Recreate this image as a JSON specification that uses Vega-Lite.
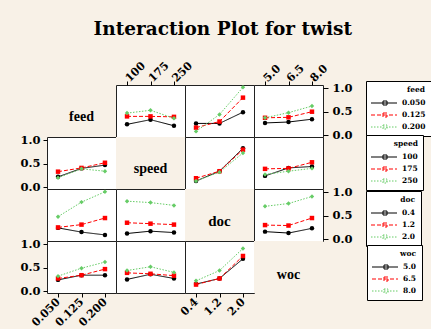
{
"$schema": "https://vega.github.io/schema/vega-lite/v6.json",
"background": "#f8f1e7",
"padding": {"left": 19, "top": 19, "right": 0, "bottom": 0},
"title": {"text": "Interaction Plot for twist", "font": "DejaVu Serif", "fontSize": 18.5, "fontWeight": "bold", "color": "#000", "anchor": "middle", "dx": -3, "offset": 21},
"datasets": {"d": [
{"r":"feed","c":"speed","t":"0.050","x":"100","y":0.23},{"r":"feed","c":"speed","t":"0.050","x":"175","y":0.33},{"r":"feed","c":"speed","t":"0.050","x":"250","y":0.20},
{"r":"feed","c":"speed","t":"0.125","x":"100","y":0.40},{"r":"feed","c":"speed","t":"0.125","x":"175","y":0.40},{"r":"feed","c":"speed","t":"0.125","x":"250","y":0.39},
{"r":"feed","c":"speed","t":"0.200","x":"100","y":0.47},{"r":"feed","c":"speed","t":"0.200","x":"175","y":0.53},{"r":"feed","c":"speed","t":"0.200","x":"250","y":0.36},
{"r":"feed","c":"doc","t":"0.050","x":"0.4","y":0.25},{"r":"feed","c":"doc","t":"0.050","x":"1.2","y":0.25},{"r":"feed","c":"doc","t":"0.050","x":"2.0","y":0.49},
{"r":"feed","c":"doc","t":"0.125","x":"0.4","y":0.16},{"r":"feed","c":"doc","t":"0.125","x":"1.2","y":0.29},{"r":"feed","c":"doc","t":"0.125","x":"2.0","y":0.80},
{"r":"feed","c":"doc","t":"0.200","x":"0.4","y":0.08},{"r":"feed","c":"doc","t":"0.200","x":"1.2","y":0.44},{"r":"feed","c":"doc","t":"0.200","x":"2.0","y":1.02},
{"r":"feed","c":"woc","t":"0.050","x":"5.0","y":0.26},{"r":"feed","c":"woc","t":"0.050","x":"6.5","y":0.28},{"r":"feed","c":"woc","t":"0.050","x":"8.0","y":0.34},
{"r":"feed","c":"woc","t":"0.125","x":"5.0","y":0.37},{"r":"feed","c":"woc","t":"0.125","x":"6.5","y":0.38},{"r":"feed","c":"woc","t":"0.125","x":"8.0","y":0.50},
{"r":"feed","c":"woc","t":"0.200","x":"5.0","y":0.37},{"r":"feed","c":"woc","t":"0.200","x":"6.5","y":0.48},{"r":"feed","c":"woc","t":"0.200","x":"8.0","y":0.62},
{"r":"speed","c":"feed","t":"100","x":"0.050","y":0.22},{"r":"speed","c":"feed","t":"100","x":"0.125","y":0.40},{"r":"speed","c":"feed","t":"100","x":"0.200","y":0.47},
{"r":"speed","c":"feed","t":"175","x":"0.050","y":0.33},{"r":"speed","c":"feed","t":"175","x":"0.125","y":0.41},{"r":"speed","c":"feed","t":"175","x":"0.200","y":0.52},
{"r":"speed","c":"feed","t":"250","x":"0.050","y":0.20},{"r":"speed","c":"feed","t":"250","x":"0.125","y":0.39},{"r":"speed","c":"feed","t":"250","x":"0.200","y":0.34},
{"r":"speed","c":"doc","t":"100","x":"0.4","y":0.13},{"r":"speed","c":"doc","t":"100","x":"1.2","y":0.34},{"r":"speed","c":"doc","t":"100","x":"2.0","y":0.83},
{"r":"speed","c":"doc","t":"175","x":"0.4","y":0.19},{"r":"speed","c":"doc","t":"175","x":"1.2","y":0.34},{"r":"speed","c":"doc","t":"175","x":"2.0","y":0.80},
{"r":"speed","c":"doc","t":"250","x":"0.4","y":0.13},{"r":"speed","c":"doc","t":"250","x":"1.2","y":0.32},{"r":"speed","c":"doc","t":"250","x":"2.0","y":0.73},
{"r":"speed","c":"woc","t":"100","x":"5.0","y":0.24},{"r":"speed","c":"woc","t":"100","x":"6.5","y":0.41},{"r":"speed","c":"woc","t":"100","x":"8.0","y":0.44},
{"r":"speed","c":"woc","t":"175","x":"5.0","y":0.39},{"r":"speed","c":"woc","t":"175","x":"6.5","y":0.40},{"r":"speed","c":"woc","t":"175","x":"8.0","y":0.53},
{"r":"speed","c":"woc","t":"250","x":"5.0","y":0.27},{"r":"speed","c":"woc","t":"250","x":"6.5","y":0.34},{"r":"speed","c":"woc","t":"250","x":"8.0","y":0.40},
{"r":"doc","c":"feed","t":"0.4","x":"0.050","y":0.24},{"r":"doc","c":"feed","t":"0.4","x":"0.125","y":0.15},{"r":"doc","c":"feed","t":"0.4","x":"0.200","y":0.09},
{"r":"doc","c":"feed","t":"1.2","x":"0.050","y":0.25},{"r":"doc","c":"feed","t":"1.2","x":"0.125","y":0.31},{"r":"doc","c":"feed","t":"1.2","x":"0.200","y":0.45},
{"r":"doc","c":"feed","t":"2.0","x":"0.050","y":0.48},{"r":"doc","c":"feed","t":"2.0","x":"0.125","y":0.79},{"r":"doc","c":"feed","t":"2.0","x":"0.200","y":1.01},
{"r":"doc","c":"speed","t":"0.4","x":"100","y":0.12},{"r":"doc","c":"speed","t":"0.4","x":"175","y":0.17},{"r":"doc","c":"speed","t":"0.4","x":"250","y":0.14},
{"r":"doc","c":"speed","t":"1.2","x":"100","y":0.35},{"r":"doc","c":"speed","t":"1.2","x":"175","y":0.33},{"r":"doc","c":"speed","t":"1.2","x":"250","y":0.31},
{"r":"doc","c":"speed","t":"2.0","x":"100","y":0.81},{"r":"doc","c":"speed","t":"2.0","x":"175","y":0.78},{"r":"doc","c":"speed","t":"2.0","x":"250","y":0.72},
{"r":"doc","c":"woc","t":"0.4","x":"5.0","y":0.16},{"r":"doc","c":"woc","t":"0.4","x":"6.5","y":0.13},{"r":"doc","c":"woc","t":"0.4","x":"8.0","y":0.23},
{"r":"doc","c":"woc","t":"1.2","x":"5.0","y":0.30},{"r":"doc","c":"woc","t":"1.2","x":"6.5","y":0.29},{"r":"doc","c":"woc","t":"1.2","x":"8.0","y":0.45},
{"r":"doc","c":"woc","t":"2.0","x":"5.0","y":0.70},{"r":"doc","c":"woc","t":"2.0","x":"6.5","y":0.76},{"r":"doc","c":"woc","t":"2.0","x":"8.0","y":0.91},
{"r":"woc","c":"feed","t":"5.0","x":"0.050","y":0.24},{"r":"woc","c":"feed","t":"5.0","x":"0.125","y":0.34},{"r":"woc","c":"feed","t":"5.0","x":"0.200","y":0.34},
{"r":"woc","c":"feed","t":"6.5","x":"0.050","y":0.27},{"r":"woc","c":"feed","t":"6.5","x":"0.125","y":0.34},{"r":"woc","c":"feed","t":"6.5","x":"0.200","y":0.47},
{"r":"woc","c":"feed","t":"8.0","x":"0.050","y":0.32},{"r":"woc","c":"feed","t":"8.0","x":"0.125","y":0.49},{"r":"woc","c":"feed","t":"8.0","x":"0.200","y":0.62},
{"r":"woc","c":"speed","t":"5.0","x":"100","y":0.25},{"r":"woc","c":"speed","t":"5.0","x":"175","y":0.36},{"r":"woc","c":"speed","t":"5.0","x":"250","y":0.27},
{"r":"woc","c":"speed","t":"6.5","x":"100","y":0.39},{"r":"woc","c":"speed","t":"6.5","x":"175","y":0.37},{"r":"woc","c":"speed","t":"6.5","x":"250","y":0.33},
{"r":"woc","c":"speed","t":"8.0","x":"100","y":0.44},{"r":"woc","c":"speed","t":"8.0","x":"175","y":0.52},{"r":"woc","c":"speed","t":"8.0","x":"250","y":0.40},
{"r":"woc","c":"doc","t":"5.0","x":"0.4","y":0.15},{"r":"woc","c":"doc","t":"5.0","x":"1.2","y":0.27},{"r":"woc","c":"doc","t":"5.0","x":"2.0","y":0.69},
{"r":"woc","c":"doc","t":"6.5","x":"0.4","y":0.14},{"r":"woc","c":"doc","t":"6.5","x":"1.2","y":0.27},{"r":"woc","c":"doc","t":"6.5","x":"2.0","y":0.75},
{"r":"woc","c":"doc","t":"8.0","x":"0.4","y":0.22},{"r":"woc","c":"doc","t":"8.0","x":"1.2","y":0.44},{"r":"woc","c":"doc","t":"8.0","x":"2.0","y":0.91}
]},
"columns": 4,
"spacing": 0,
"bounds": "flush",
"resolve": {"scale": {"x": "independent", "y": "independent", "color": "independent", "fill": "independent", "strokeDash": "independent", "shape": "independent"}, "legend": {"color": "independent", "fill": "independent", "strokeDash": "independent", "shape": "independent"}},
"concat": [
{"width": 69, "height": 52, "view": {"fill": "#f8f1e7"}, "data": {"values": [{"label": "feed"}]}, "mark": {"type": "text", "font": "Liberation Serif", "fontSize": 14, "fontWeight": "bold", "dy": 6, "color": "#000"}, "encoding": {"text": {"field": "label"}}},
{"width": 69, "height": 52, "data": {"name": "d"}, "transform": [{"filter": "datum.r=='feed' && datum.c=='speed'"}],
 "encoding": {"x": {"field": "x", "type": "ordinal", "scale": {"type": "point", "padding": 0.47, "domain": ["100","175","250"]}, "axis": {"orient": "top", "title": null, "labelAngle": -45, "labelAlign": "left", "labelBaseline": "middle", "tickSize": 4, "labelPadding": 1, "labelFontSize": 11}},
  "y": {"field": "y", "type": "quantitative", "scale": {"domain": [-0.04, 1.07], "nice": false, "zero": false}, "axis": null}},
 "layer": [{"mark": {"type": "line", "strokeWidth": 1}, "encoding": {"color": {"field": "t", "type": "nominal", "scale": {"domain": ["0.050","0.125","0.200"], "range": ["#000000","#ff0000","#66cc66"]}, "legend": null}, "strokeDash": {"field": "t", "type": "nominal", "scale": {"domain": ["0.050","0.125","0.200"], "range": [[1,0],[4,2],[1.5,1.5]]}, "legend": null}}},
  {"mark": {"type": "point", "filled": true, "opacity": 1, "size": 20, "strokeWidth": 0}, "encoding": {"fill": {"field": "t", "type": "nominal", "scale": {"domain": ["0.125","0.050","0.200"], "range": ["#ff0000","#000000","#66cc66"]}, "legend": null}, "shape": {"field": "t", "type": "nominal", "scale": {"domain": ["0.200","0.125","0.050"], "range": ["diamond","square","circle"]}, "legend": null}}}]},
{"width": 69, "height": 52, "data": {"name": "d"}, "transform": [{"filter": "datum.r=='feed' && datum.c=='doc'"}],
 "encoding": {"x": {"field": "x", "type": "ordinal", "scale": {"type": "point", "padding": 0.47, "domain": ["0.4","1.2","2.0"]}, "axis": null},
  "y": {"field": "y", "type": "quantitative", "scale": {"domain": [-0.04, 1.07], "nice": false, "zero": false}, "axis": null}},
 "layer": [{"mark": {"type": "line", "strokeWidth": 1}, "encoding": {"color": {"field": "t", "type": "nominal", "scale": {"domain": ["0.050","0.125","0.200"], "range": ["#000000","#ff0000","#66cc66"]}, "legend": null}, "strokeDash": {"field": "t", "type": "nominal", "scale": {"domain": ["0.050","0.125","0.200"], "range": [[1,0],[4,2],[1.5,1.5]]}, "legend": null}}},
  {"mark": {"type": "point", "filled": true, "opacity": 1, "size": 20, "strokeWidth": 0}, "encoding": {"fill": {"field": "t", "type": "nominal", "scale": {"domain": ["0.125","0.050","0.200"], "range": ["#ff0000","#000000","#66cc66"]}, "legend": null}, "shape": {"field": "t", "type": "nominal", "scale": {"domain": ["0.200","0.125","0.050"], "range": ["diamond","square","circle"]}, "legend": null}}}]},
{"width": 69, "height": 52, "data": {"name": "d"}, "transform": [{"filter": "datum.r=='feed' && datum.c=='woc'"}],
 "encoding": {"x": {"field": "x", "type": "ordinal", "scale": {"type": "point", "padding": 0.47, "domain": ["5.0","6.5","8.0"]}, "axis": {"orient": "top", "title": null, "labelAngle": -45, "labelAlign": "left", "labelBaseline": "middle", "tickSize": 4, "labelPadding": 1, "labelFontSize": 11}},
  "y": {"field": "y", "type": "quantitative", "scale": {"domain": [-0.04, 1.07], "nice": false, "zero": false}, "axis": {"orient": "right", "title": null, "values": [0, 0.5, 1], "format": ".1f", "tickSize": 5, "labelPadding": 4}}},
 "layer": [{"mark": {"type": "line", "strokeWidth": 1}, "encoding": {"color": {"field": "t", "type": "nominal", "scale": {"domain": ["0.050","0.125","0.200"], "range": ["#000000","#ff0000","#66cc66"]}, "legend": {"title": "feed", "orient": "none", "legendX": 112, "legendY": -4, "symbolType": "M-1.1,0H4.1M1.3,-0.4H2.1V0.4H1.3Z"}}, "strokeDash": {"field": "t", "type": "nominal", "scale": {"domain": ["0.050","0.125","0.200"], "range": [[1,0],[4,2],[1.5,1.5]]}, "legend": {"title": "feed", "orient": "none", "legendX": 112, "legendY": -4, "symbolType": "M-1.1,0H4.1M1.3,-0.4H2.1V0.4H1.3Z"}}}},
  {"mark": {"type": "point", "filled": true, "opacity": 1, "size": 20, "strokeWidth": 0}, "encoding": {"fill": {"field": "t", "type": "nominal", "scale": {"domain": ["0.125","0.050","0.200"], "range": ["#ff0000","#000000","#66cc66"]}, "legend": null}, "shape": {"field": "t", "type": "nominal", "scale": {"domain": ["0.200","0.125","0.050"], "range": ["diamond","square","circle"]}, "legend": null}}}]},

{"width": 69, "height": 52, "data": {"name": "d"}, "transform": [{"filter": "datum.r=='speed' && datum.c=='feed'"}],
 "encoding": {"x": {"field": "x", "type": "ordinal", "scale": {"type": "point", "padding": 0.47, "domain": ["0.050","0.125","0.200"]}, "axis": null},
  "y": {"field": "y", "type": "quantitative", "scale": {"domain": [-0.04, 1.07], "nice": false, "zero": false}, "axis": {"orient": "left", "title": null, "values": [0, 0.5, 1], "format": ".1f", "tickSize": 4, "labelPadding": 3}}},
 "layer": [{"mark": {"type": "line", "strokeWidth": 1}, "encoding": {"color": {"field": "t", "type": "nominal", "scale": {"domain": ["100","175","250"], "range": ["#000000","#ff0000","#66cc66"]}, "legend": null}, "strokeDash": {"field": "t", "type": "nominal", "scale": {"domain": ["100","175","250"], "range": [[1,0],[4,2],[1.5,1.5]]}, "legend": null}}},
  {"mark": {"type": "point", "filled": true, "opacity": 1, "size": 20, "strokeWidth": 0}, "encoding": {"fill": {"field": "t", "type": "nominal", "scale": {"domain": ["175","100","250"], "range": ["#ff0000","#000000","#66cc66"]}, "legend": null}, "shape": {"field": "t", "type": "nominal", "scale": {"domain": ["250","175","100"], "range": ["diamond","square","circle"]}, "legend": null}}}]},
{"width": 69, "height": 52, "view": {"fill": "#f8f1e7"}, "data": {"values": [{"label": "speed"}]}, "mark": {"type": "text", "font": "Liberation Serif", "fontSize": 14, "fontWeight": "bold", "dy": 6, "color": "#000"}, "encoding": {"text": {"field": "label"}}},
{"width": 69, "height": 52, "data": {"name": "d"}, "transform": [{"filter": "datum.r=='speed' && datum.c=='doc'"}],
 "encoding": {"x": {"field": "x", "type": "ordinal", "scale": {"type": "point", "padding": 0.47, "domain": ["0.4","1.2","2.0"]}, "axis": null},
  "y": {"field": "y", "type": "quantitative", "scale": {"domain": [-0.04, 1.07], "nice": false, "zero": false}, "axis": null}},
 "layer": [{"mark": {"type": "line", "strokeWidth": 1}, "encoding": {"color": {"field": "t", "type": "nominal", "scale": {"domain": ["100","175","250"], "range": ["#000000","#ff0000","#66cc66"]}, "legend": null}, "strokeDash": {"field": "t", "type": "nominal", "scale": {"domain": ["100","175","250"], "range": [[1,0],[4,2],[1.5,1.5]]}, "legend": null}}},
  {"mark": {"type": "point", "filled": true, "opacity": 1, "size": 20, "strokeWidth": 0}, "encoding": {"fill": {"field": "t", "type": "nominal", "scale": {"domain": ["175","100","250"], "range": ["#ff0000","#000000","#66cc66"]}, "legend": null}, "shape": {"field": "t", "type": "nominal", "scale": {"domain": ["250","175","100"], "range": ["diamond","square","circle"]}, "legend": null}}}]},
{"width": 69, "height": 52, "data": {"name": "d"}, "transform": [{"filter": "datum.r=='speed' && datum.c=='woc'"}],
 "encoding": {"x": {"field": "x", "type": "ordinal", "scale": {"type": "point", "padding": 0.47, "domain": ["5.0","6.5","8.0"]}, "axis": null},
  "y": {"field": "y", "type": "quantitative", "scale": {"domain": [-0.04, 1.07], "nice": false, "zero": false}, "axis": null}},
 "layer": [{"mark": {"type": "line", "strokeWidth": 1}, "encoding": {"color": {"field": "t", "type": "nominal", "scale": {"domain": ["100","175","250"], "range": ["#000000","#ff0000","#66cc66"]}, "legend": {"title": "speed", "orient": "none", "legendX": 112, "legendY": -2, "symbolType": "M-1.1,0H4.1M1.3,-0.4H2.1V0.4H1.3Z"}}, "strokeDash": {"field": "t", "type": "nominal", "scale": {"domain": ["100","175","250"], "range": [[1,0],[4,2],[1.5,1.5]]}, "legend": {"title": "speed", "orient": "none", "legendX": 112, "legendY": -2, "symbolType": "M-1.1,0H4.1M1.3,-0.4H2.1V0.4H1.3Z"}}}},
  {"mark": {"type": "point", "filled": true, "opacity": 1, "size": 20, "strokeWidth": 0}, "encoding": {"fill": {"field": "t", "type": "nominal", "scale": {"domain": ["175","100","250"], "range": ["#ff0000","#000000","#66cc66"]}, "legend": null}, "shape": {"field": "t", "type": "nominal", "scale": {"domain": ["250","175","100"], "range": ["diamond","square","circle"]}, "legend": null}}}]},

{"width": 69, "height": 52, "data": {"name": "d"}, "transform": [{"filter": "datum.r=='doc' && datum.c=='feed'"}],
 "encoding": {"x": {"field": "x", "type": "ordinal", "scale": {"type": "point", "padding": 0.47, "domain": ["0.050","0.125","0.200"]}, "axis": null},
  "y": {"field": "y", "type": "quantitative", "scale": {"domain": [-0.04, 1.07], "nice": false, "zero": false}, "axis": null}},
 "layer": [{"mark": {"type": "line", "strokeWidth": 1}, "encoding": {"color": {"field": "t", "type": "nominal", "scale": {"domain": ["0.4","1.2","2.0"], "range": ["#000000","#ff0000","#66cc66"]}, "legend": null}, "strokeDash": {"field": "t", "type": "nominal", "scale": {"domain": ["0.4","1.2","2.0"], "range": [[1,0],[4,2],[1.5,1.5]]}, "legend": null}}},
  {"mark": {"type": "point", "filled": true, "opacity": 1, "size": 20, "strokeWidth": 0}, "encoding": {"fill": {"field": "t", "type": "nominal", "scale": {"domain": ["1.2","0.4","2.0"], "range": ["#ff0000","#000000","#66cc66"]}, "legend": null}, "shape": {"field": "t", "type": "nominal", "scale": {"domain": ["2.0","1.2","0.4"], "range": ["diamond","square","circle"]}, "legend": null}}}]},
{"width": 69, "height": 52, "data": {"name": "d"}, "transform": [{"filter": "datum.r=='doc' && datum.c=='speed'"}],
 "encoding": {"x": {"field": "x", "type": "ordinal", "scale": {"type": "point", "padding": 0.47, "domain": ["100","175","250"]}, "axis": null},
  "y": {"field": "y", "type": "quantitative", "scale": {"domain": [-0.04, 1.07], "nice": false, "zero": false}, "axis": null}},
 "layer": [{"mark": {"type": "line", "strokeWidth": 1}, "encoding": {"color": {"field": "t", "type": "nominal", "scale": {"domain": ["0.4","1.2","2.0"], "range": ["#000000","#ff0000","#66cc66"]}, "legend": null}, "strokeDash": {"field": "t", "type": "nominal", "scale": {"domain": ["0.4","1.2","2.0"], "range": [[1,0],[4,2],[1.5,1.5]]}, "legend": null}}},
  {"mark": {"type": "point", "filled": true, "opacity": 1, "size": 20, "strokeWidth": 0}, "encoding": {"fill": {"field": "t", "type": "nominal", "scale": {"domain": ["1.2","0.4","2.0"], "range": ["#ff0000","#000000","#66cc66"]}, "legend": null}, "shape": {"field": "t", "type": "nominal", "scale": {"domain": ["2.0","1.2","0.4"], "range": ["diamond","square","circle"]}, "legend": null}}}]},
{"width": 69, "height": 52, "view": {"fill": "#f8f1e7"}, "data": {"values": [{"label": "doc"}]}, "mark": {"type": "text", "font": "Liberation Serif", "fontSize": 15, "fontWeight": "bold", "dy": 6, "color": "#000"}, "encoding": {"text": {"field": "label"}}},
{"width": 69, "height": 52, "data": {"name": "d"}, "transform": [{"filter": "datum.r=='doc' && datum.c=='woc'"}],
 "encoding": {"x": {"field": "x", "type": "ordinal", "scale": {"type": "point", "padding": 0.47, "domain": ["5.0","6.5","8.0"]}, "axis": null},
  "y": {"field": "y", "type": "quantitative", "scale": {"domain": [-0.04, 1.07], "nice": false, "zero": false}, "axis": {"orient": "right", "title": null, "values": [0, 0.5, 1], "format": ".1f", "tickSize": 5, "labelPadding": 4}}},
 "layer": [{"mark": {"type": "line", "strokeWidth": 1}, "encoding": {"color": {"field": "t", "type": "nominal", "scale": {"domain": ["0.4","1.2","2.0"], "range": ["#000000","#ff0000","#66cc66"]}, "legend": {"title": "doc", "orient": "none", "legendX": 112, "legendY": 2, "symbolType": "M-1.1,0H4.1M1.3,-0.4H2.1V0.4H1.3Z"}}, "strokeDash": {"field": "t", "type": "nominal", "scale": {"domain": ["0.4","1.2","2.0"], "range": [[1,0],[4,2],[1.5,1.5]]}, "legend": {"title": "doc", "orient": "none", "legendX": 112, "legendY": 2, "symbolType": "M-1.1,0H4.1M1.3,-0.4H2.1V0.4H1.3Z"}}}},
  {"mark": {"type": "point", "filled": true, "opacity": 1, "size": 20, "strokeWidth": 0}, "encoding": {"fill": {"field": "t", "type": "nominal", "scale": {"domain": ["1.2","0.4","2.0"], "range": ["#ff0000","#000000","#66cc66"]}, "legend": null}, "shape": {"field": "t", "type": "nominal", "scale": {"domain": ["2.0","1.2","0.4"], "range": ["diamond","square","circle"]}, "legend": null}}}]},

{"width": 69, "height": 52, "data": {"name": "d"}, "transform": [{"filter": "datum.r=='woc' && datum.c=='feed'"}],
 "encoding": {"x": {"field": "x", "type": "ordinal", "scale": {"type": "point", "padding": 0.47, "domain": ["0.050","0.125","0.200"]}, "axis": {"orient": "bottom", "title": null, "labelAngle": -45, "labelAlign": "right", "labelBaseline": "middle", "tickSize": 4, "labelPadding": 3, "labelFontSize": 11}},
  "y": {"field": "y", "type": "quantitative", "scale": {"domain": [-0.04, 1.07], "nice": false, "zero": false}, "axis": {"orient": "left", "title": null, "values": [0, 0.5, 1], "format": ".1f", "tickSize": 4, "labelPadding": 3}}},
 "layer": [{"mark": {"type": "line", "strokeWidth": 1}, "encoding": {"color": {"field": "t", "type": "nominal", "scale": {"domain": ["5.0","6.5","8.0"], "range": ["#000000","#ff0000","#66cc66"]}, "legend": null}, "strokeDash": {"field": "t", "type": "nominal", "scale": {"domain": ["5.0","6.5","8.0"], "range": [[1,0],[4,2],[1.5,1.5]]}, "legend": null}}},
  {"mark": {"type": "point", "filled": true, "opacity": 1, "size": 20, "strokeWidth": 0}, "encoding": {"fill": {"field": "t", "type": "nominal", "scale": {"domain": ["6.5","5.0","8.0"], "range": ["#ff0000","#000000","#66cc66"]}, "legend": null}, "shape": {"field": "t", "type": "nominal", "scale": {"domain": ["8.0","6.5","5.0"], "range": ["diamond","square","circle"]}, "legend": null}}}]},
{"width": 69, "height": 52, "data": {"name": "d"}, "transform": [{"filter": "datum.r=='woc' && datum.c=='speed'"}],
 "encoding": {"x": {"field": "x", "type": "ordinal", "scale": {"type": "point", "padding": 0.47, "domain": ["100","175","250"]}, "axis": null},
  "y": {"field": "y", "type": "quantitative", "scale": {"domain": [-0.04, 1.07], "nice": false, "zero": false}, "axis": null}},
 "layer": [{"mark": {"type": "line", "strokeWidth": 1}, "encoding": {"color": {"field": "t", "type": "nominal", "scale": {"domain": ["5.0","6.5","8.0"], "range": ["#000000","#ff0000","#66cc66"]}, "legend": null}, "strokeDash": {"field": "t", "type": "nominal", "scale": {"domain": ["5.0","6.5","8.0"], "range": [[1,0],[4,2],[1.5,1.5]]}, "legend": null}}},
  {"mark": {"type": "point", "filled": true, "opacity": 1, "size": 20, "strokeWidth": 0}, "encoding": {"fill": {"field": "t", "type": "nominal", "scale": {"domain": ["6.5","5.0","8.0"], "range": ["#ff0000","#000000","#66cc66"]}, "legend": null}, "shape": {"field": "t", "type": "nominal", "scale": {"domain": ["8.0","6.5","5.0"], "range": ["diamond","square","circle"]}, "legend": null}}}]},
{"width": 69, "height": 52, "data": {"name": "d"}, "transform": [{"filter": "datum.r=='woc' && datum.c=='doc'"}],
 "encoding": {"x": {"field": "x", "type": "ordinal", "scale": {"type": "point", "padding": 0.47, "domain": ["0.4","1.2","2.0"]}, "axis": {"orient": "bottom", "title": null, "labelAngle": -45, "labelAlign": "right", "labelBaseline": "middle", "tickSize": 4, "labelPadding": 3, "labelFontSize": 11}},
  "y": {"field": "y", "type": "quantitative", "scale": {"domain": [-0.04, 1.07], "nice": false, "zero": false}, "axis": null}},
 "layer": [{"mark": {"type": "line", "strokeWidth": 1}, "encoding": {"color": {"field": "t", "type": "nominal", "scale": {"domain": ["5.0","6.5","8.0"], "range": ["#000000","#ff0000","#66cc66"]}, "legend": {"title": "woc", "orient": "none", "legendX": 182, "legendY": 4, "symbolType": "M-1.1,0H4.1M1.3,-0.4H2.1V0.4H1.3Z"}}, "strokeDash": {"field": "t", "type": "nominal", "scale": {"domain": ["5.0","6.5","8.0"], "range": [[1,0],[4,2],[1.5,1.5]]}, "legend": {"title": "woc", "orient": "none", "legendX": 182, "legendY": 4, "symbolType": "M-1.1,0H4.1M1.3,-0.4H2.1V0.4H1.3Z"}}}},
  {"mark": {"type": "point", "filled": true, "opacity": 1, "size": 20, "strokeWidth": 0}, "encoding": {"fill": {"field": "t", "type": "nominal", "scale": {"domain": ["6.5","5.0","8.0"], "range": ["#ff0000","#000000","#66cc66"]}, "legend": null}, "shape": {"field": "t", "type": "nominal", "scale": {"domain": ["8.0","6.5","5.0"], "range": ["diamond","square","circle"]}, "legend": null}}}]},
{"width": 69, "height": 52, "view": {"fill": "#f8f1e7"}, "data": {"values": [{"label": "woc"}]}, "mark": {"type": "text", "font": "Liberation Serif", "fontSize": 14, "fontWeight": "bold", "dy": 8, "color": "#000"}, "encoding": {"text": {"field": "label"}}}
],
"config": {
 "view": {"stroke": "#222222", "strokeWidth": 1, "fill": "#ffffff"},
 "axis": {"labelFont": "DejaVu Serif", "labelFontWeight": "bold", "labelFontSize": 11.5, "labelColor": "#000000", "tickColor": "#000000", "tickWidth": 1, "domain": false, "grid": false},
 "legend": {"symbolSize": 100, "symbolStrokeWidth": 1, "labelOffset": 20, "padding": 5, "rowPadding": 2, "titlePadding": 4, "strokeColor": "#000000", "fillColor": "#ffffff", "titleFont": "DejaVu Serif", "titleFontSize": 7.5, "titleFontWeight": "bold", "titleAnchor": "end", "titleColor": "#000000", "labelFont": "DejaVu Serif", "labelFontSize": 7.5, "labelFontWeight": "bold", "labelColor": "#000000"}
}
}
